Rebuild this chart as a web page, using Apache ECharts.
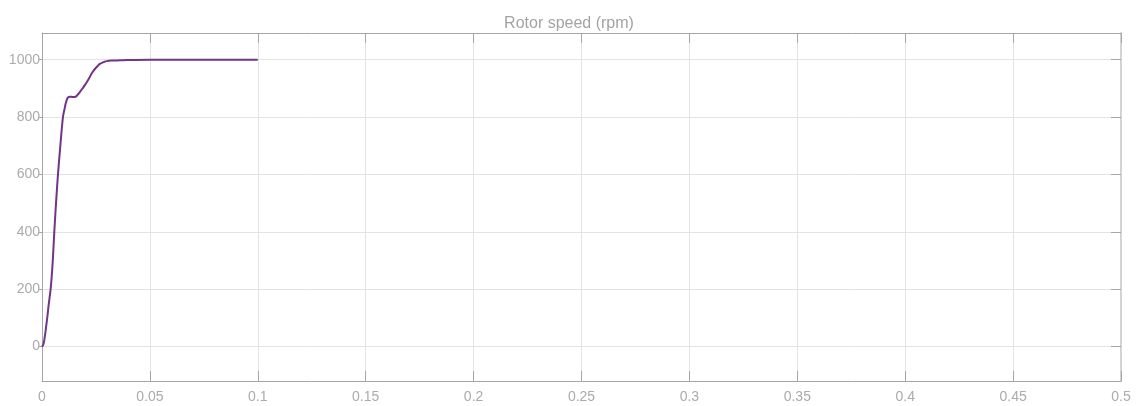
<!DOCTYPE html>
<html>
<head>
<meta charset="utf-8">
<script src="https://cdn.jsdelivr.net/npm/echarts@6/dist/echarts.min.js"></script>
<style>
html,body{margin:0;padding:0;background:#fff;}
#c{width:1138px;height:406px;}
</style>
</head>
<body>
<div id="c"></div>
<script>
var titleText = 'Rotor speed (rpm)';
var timeS = [0, 0.0005, 0.001, 0.0015, 0.002, 0.0025, 0.003, 0.0035, 0.004, 0.0045, 0.005, 0.0057, 0.0065, 0.0074, 0.0085, 0.0097, 0.0105, 0.011, 0.0115, 0.012, 0.013, 0.014, 0.015, 0.016, 0.017, 0.018, 0.019, 0.020, 0.021, 0.022, 0.023, 0.024, 0.025, 0.026, 0.027, 0.028, 0.029, 0.030, 0.032, 0.035, 0.038, 0.040, 0.050, 0.060, 0.070, 0.080, 0.090, 0.100];
var speedRpm = [0, 5, 20, 45, 75, 105, 140, 170, 200, 245, 300, 400, 500, 600, 700, 800, 830, 848, 860, 868, 871, 870, 870, 873, 882, 892, 902, 913, 925, 938, 952, 963, 972, 980, 986, 990, 993, 995, 997, 997.5, 998, 999, 1000, 1000, 1000, 1000, 1000, 1000];
var xTicks = [0, 0.05, 0.1, 0.15, 0.2, 0.25, 0.3, 0.35, 0.4, 0.45, 0.5];

var data = timeS.map(function (t, i) { return [t, speedRpm[i]]; });
var chart = echarts.init(document.getElementById('c'));
var gray = '#a6a6a6';
var labelColor = '#ababab';
var font = 'Liberation Sans, Arial, sans-serif';
chart.setOption({
  animation: false,
  title: {
    text: titleText, left: 'center', top: 11,
    textStyle: { color: '#a3a3a3', fontSize: 16, fontWeight: 'normal', fontFamily: font }
  },
  grid: { left: 42, right: 17, top: 33, bottom: 25 },
  xAxis: [{
    type: 'value', min: 0, max: 0.5, interval: 0.05, position: 'bottom',
    axisLine: { show: true, onZero: false, lineStyle: { color: gray, width: 1 } },
    axisTick: { show: true, inside: true, length: 10, lineStyle: { color: gray } },
    axisLabel: { color: labelColor, fontSize: 14, fontFamily: font, margin: 9,
      formatter: function (v) { return String(parseFloat(v.toFixed(2))); } },
    splitLine: { show: true, lineStyle: { color: '#e3e3e3', width: 1 } }
  }, {
    type: 'value', min: 0, max: 0.5, interval: 0.05, position: 'top',
    axisLine: { show: true, onZero: false, lineStyle: { color: gray, width: 1 } },
    axisTick: { show: true, inside: true, length: 10, lineStyle: { color: gray } },
    axisLabel: { show: false }, splitLine: { show: false }
  }],
  yAxis: [{
    type: 'value', min: -120, max: 1093, splitNumber: 6, position: 'left',
    axisLine: { show: true, onZero: false, lineStyle: { color: gray, width: 1 } },
    axisTick: { show: true, inside: false, length: 3, lineStyle: { color: gray } },
    axisLabel: { color: labelColor, fontSize: 14, fontFamily: font, margin: 2,
      showMinLabel: false, showMaxLabel: false,
      formatter: function (v) { return String(v); } },
    splitLine: { show: true, lineStyle: { color: '#e3e3e3', width: 1 } }
  }, {
    type: 'value', min: -120, max: 1093, splitNumber: 6, position: 'right',
    axisLine: { show: true, onZero: false, lineStyle: { color: '#d4d4d4', width: 2 } },
    axisTick: { show: true, inside: true, length: 10, lineStyle: { color: gray } },
    axisLabel: { show: false }, splitLine: { show: false }
  }],
  series: [{
    type: 'line', data: data, xAxisIndex: 0, yAxisIndex: 0,
    showSymbol: false, smooth: 0.3,
    lineStyle: { color: '#72348a', width: 2 }
  }]
});
</script>
</body>
</html>
